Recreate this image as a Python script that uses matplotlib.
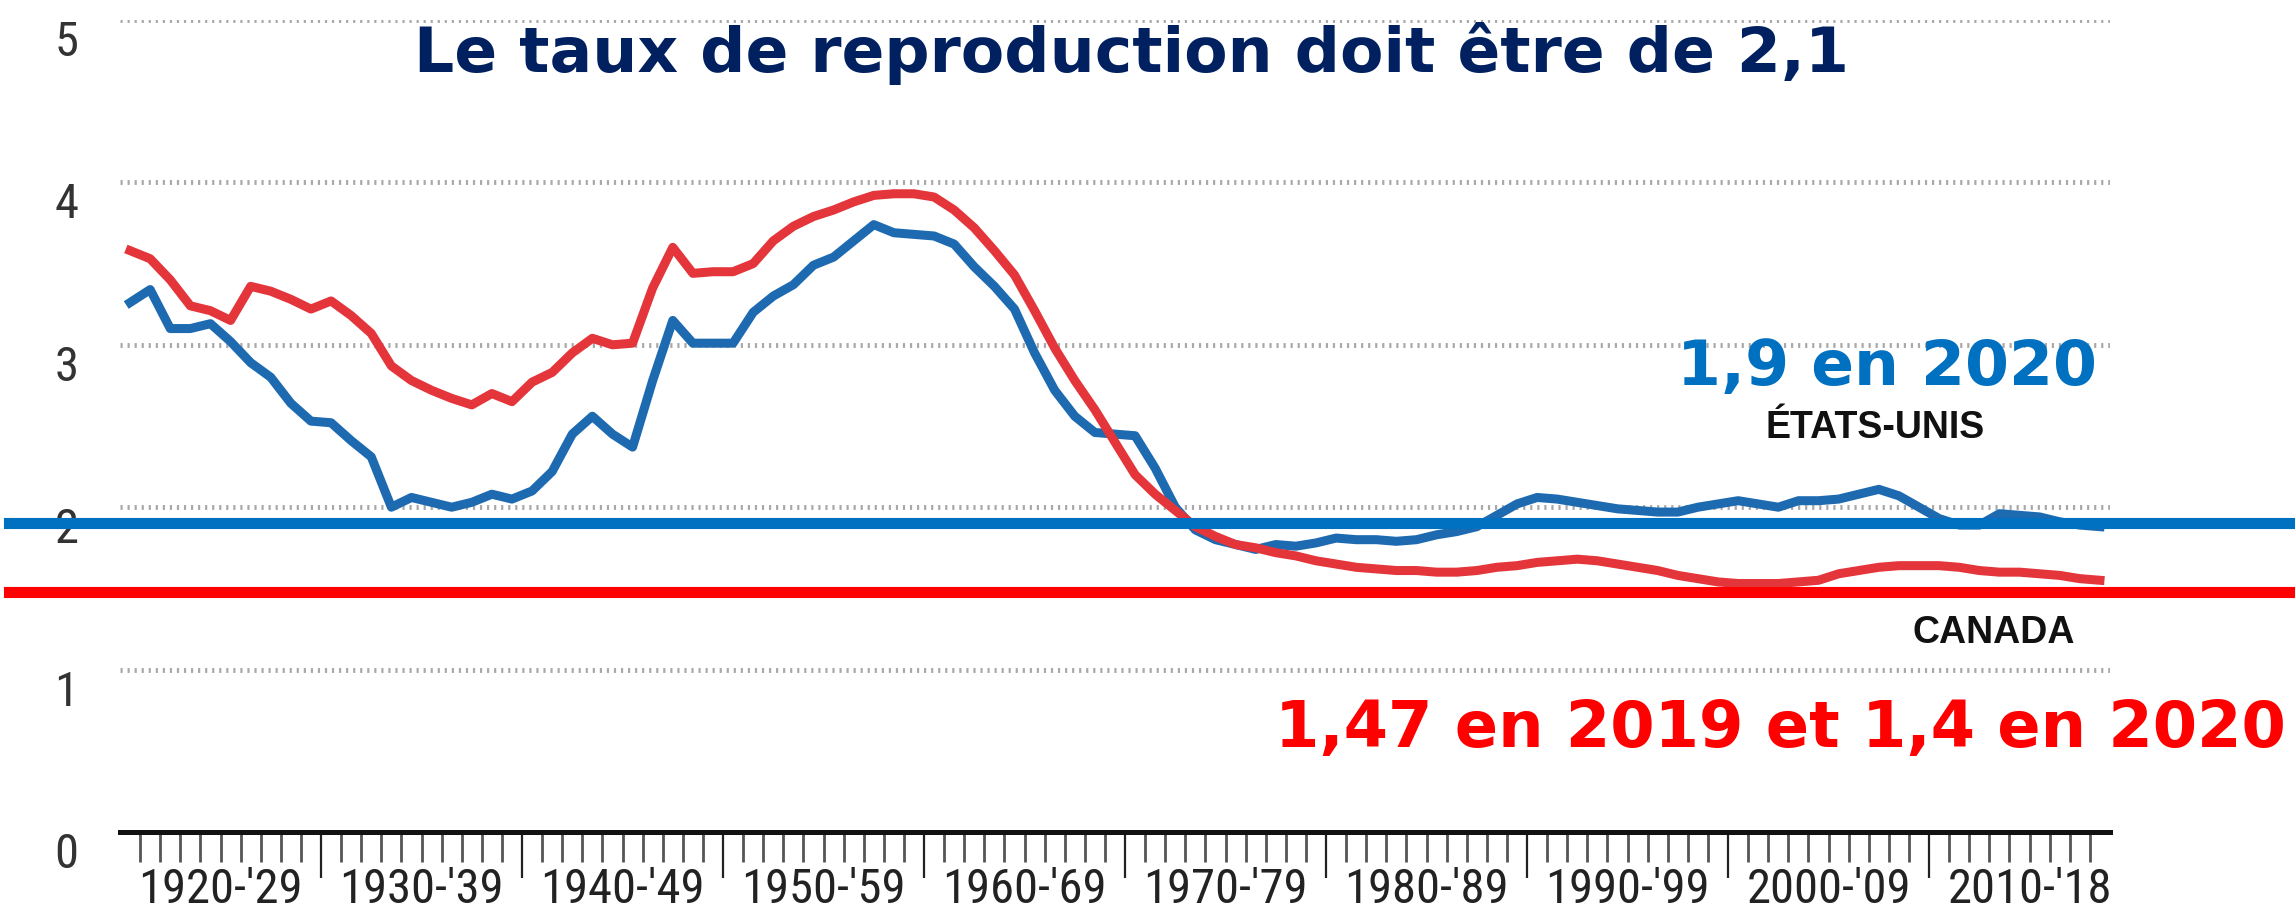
import matplotlib.pyplot as plt
from matplotlib import font_manager
from matplotlib.font_manager import FontProperties

# Total fertility rate, one value per year 1920-2018
YEARS = list(range(1920, 2019))
CANADA = [
    3.58, 3.53, 3.40, 3.24, 3.21, 3.15, 3.36, 3.33, 3.28, 3.22,
    3.27, 3.18, 3.07, 2.87, 2.78, 2.72, 2.67, 2.63, 2.70, 2.65,
    2.77, 2.83, 2.95, 3.04, 3.00, 3.01, 3.35, 3.60, 3.44, 3.45,
    3.45, 3.50, 3.64, 3.73, 3.79, 3.83, 3.88, 3.92, 3.93, 3.93,
    3.91, 3.83, 3.72, 3.58, 3.43, 3.21, 2.98, 2.78, 2.60, 2.40,
    2.20, 2.08, 1.98, 1.88, 1.82, 1.77, 1.75, 1.72, 1.70, 1.67,
    1.65, 1.63, 1.62, 1.61, 1.61, 1.60, 1.60, 1.61, 1.63, 1.64,
    1.66, 1.67, 1.68, 1.67, 1.65, 1.63, 1.61, 1.58, 1.56, 1.54,
    1.53, 1.53, 1.53, 1.54, 1.55, 1.59, 1.61, 1.63, 1.64, 1.64,
    1.64, 1.63, 1.61, 1.60, 1.60, 1.59, 1.58, 1.56, 1.55,
]
USA = [
    3.26, 3.34, 3.10, 3.10, 3.13, 3.02, 2.89, 2.80, 2.64, 2.53,
    2.52, 2.41, 2.31, 2.00, 2.06, 2.03, 2.00, 2.03, 2.08, 2.05,
    2.10, 2.22, 2.45, 2.56, 2.45, 2.37, 2.78, 3.15, 3.01, 3.01,
    3.01, 3.20, 3.30, 3.37, 3.49, 3.54, 3.64, 3.74, 3.69, 3.68,
    3.67, 3.62, 3.48, 3.36, 3.22, 2.95, 2.72, 2.56, 2.46, 2.45,
    2.44, 2.24, 2.00, 1.86, 1.80, 1.77, 1.74, 1.77, 1.76, 1.78,
    1.81, 1.80, 1.80, 1.79, 1.80, 1.83, 1.85, 1.88, 1.95, 2.02,
    2.06, 2.05, 2.03, 2.01, 1.99, 1.98, 1.97, 1.97, 2.00, 2.02,
    2.04, 2.02, 2.00, 2.04, 2.04, 2.05, 2.08, 2.11, 2.07, 2.00,
    1.93, 1.89, 1.89, 1.96, 1.95, 1.94, 1.91, 1.89, 1.88,
]
US_2020 = 1.9
CANADA_2020 = 1.48

DECADES = [1920, 1930, 1940, 1950, 1960, 1970, 1980, 1990, 2000, 2010]
DECADE_LABELS = ["1920-'29", "1930-'39", "1940-'49", "1950-'59", "1960-'69",
                 "1970-'79", "1980-'89", "1990-'99", "2000-'09", "2010-'18"]
Y_TICKS = [0, 1, 2, 3, 4, 5]

W, H = 2295, 914


def narrow_font():
    # the axis labels use a condensed face; take the best one installed
    prefs = ["Liberation Sans Narrow", "Roboto Condensed", "DejaVu Sans", "Open Sans", "Noto Sans"]
    best = None
    for f in font_manager.fontManager.ttflist:
        condensed = "Narrow" in f.name or "Condensed" in f.name or "condensed" in str(f.stretch)
        if not condensed or f.style != "normal" or f.weight not in (400, "normal", "regular"):
            continue
        rank = next((i for i, p in enumerate(prefs) if f.name.startswith(p)), len(prefs))
        if best is None or rank < best[0]:
            best = (rank, f.fname)
    if best:
        return FontProperties(fname=best[1]), True
    return FontProperties(family="Liberation Sans"), False


NARROW, HAVE_NARROW = narrow_font()
LABEL_SIZE = 35 if HAVE_NARROW else 28


def fx(px):
    return px / W


def fy(py):
    return 1 - py / H


fig = plt.figure(figsize=(W / 100, H / 100), dpi=100)
ax = fig.add_axes([fx(120), fy(832), fx(2110) - fx(120), fy(20) - fy(832)])

ax.plot(YEARS, USA, color="#1d6ab1", linewidth=6.5, solid_joinstyle="round", zorder=3)
ax.plot(YEARS, CANADA, color="#e4353b", linewidth=6.5, solid_joinstyle="round", zorder=3.1)

# reference lines running out past the plot area
ax.axhline(US_2020, xmin=-0.056, xmax=1.1, color="#0070c0", linewidth=8, clip_on=False, zorder=4)
ax.axhline(CANADA_2020, xmin=-0.056, xmax=1.1, color="#ff0000", linewidth=8, clip_on=False, zorder=4)

ax.set_xlim(YEARS[0] - 0.5, YEARS[-1] + 0.5)
ax.set_ylim(0, 5)

for side in ("left", "top", "right"):
    ax.spines[side].set_visible(False)
ax.spines["bottom"].set_linewidth(3.6)
ax.spines["bottom"].set_color("#111111")

ax.set_yticks(Y_TICKS)
ax.set_yticklabels([str(v) for v in Y_TICKS], fontproperties=NARROW, fontsize=LABEL_SIZE, color="#333333")
plt.setp(ax.get_yticklabels(), va="top")
ax.tick_params(axis="y", length=0, pad=30)
ax.grid(axis="y", color="#a8a8a8", linewidth=3.5, linestyle=(0, (0.45, 1.0)))
ax.set_axisbelow(True)

ax.set_xticks([d - 0.5 for d in DECADES[1:]])
ax.set_xticks([y - 0.5 for y in YEARS[1:]], minor=True)
ax.tick_params(axis="x", which="major", length=33, width=1.6, color="#222222", labelbottom=False)
ax.tick_params(axis="x", which="minor", length=21.5, width=2, color="#555555")

for d, lab in zip(DECADES, DECADE_LABELS):
    ax.text(d + 4.5, -0.088, lab, transform=ax.get_xaxis_transform(), ha="center", va="baseline",
            fontproperties=NARROW, fontsize=LABEL_SIZE, color="#222222")

fig.text(fx(1132), fy(72), "Le taux de reproduction doit être de 2,1", ha="center", va="baseline",
         fontfamily="DejaVu Sans", fontweight="bold", fontsize=45.5, color="#002060")
fig.text(fx(1887), fy(385), "1,9 en 2020", ha="center", va="baseline",
         fontfamily="DejaVu Sans", fontweight="bold", fontsize=45.5, color="#0070c0")
fig.text(fx(1875), fy(438), "ÉTATS-UNIS", ha="center", va="baseline",
         fontfamily="Liberation Sans", fontweight="bold", fontsize=27, color="#111111")
fig.text(fx(1994), fy(643), "CANADA", ha="center", va="baseline",
         fontfamily="Liberation Sans", fontweight="bold", fontsize=27, color="#111111")
fig.text(fx(1780), fy(747), "1,47 en 2019 et 1,4 en 2020", ha="center", va="baseline",
         fontfamily="DejaVu Sans", fontweight="bold", fontsize=46, color="#ff0000")

fig.savefig("out.png", dpi=100, facecolor="white")
